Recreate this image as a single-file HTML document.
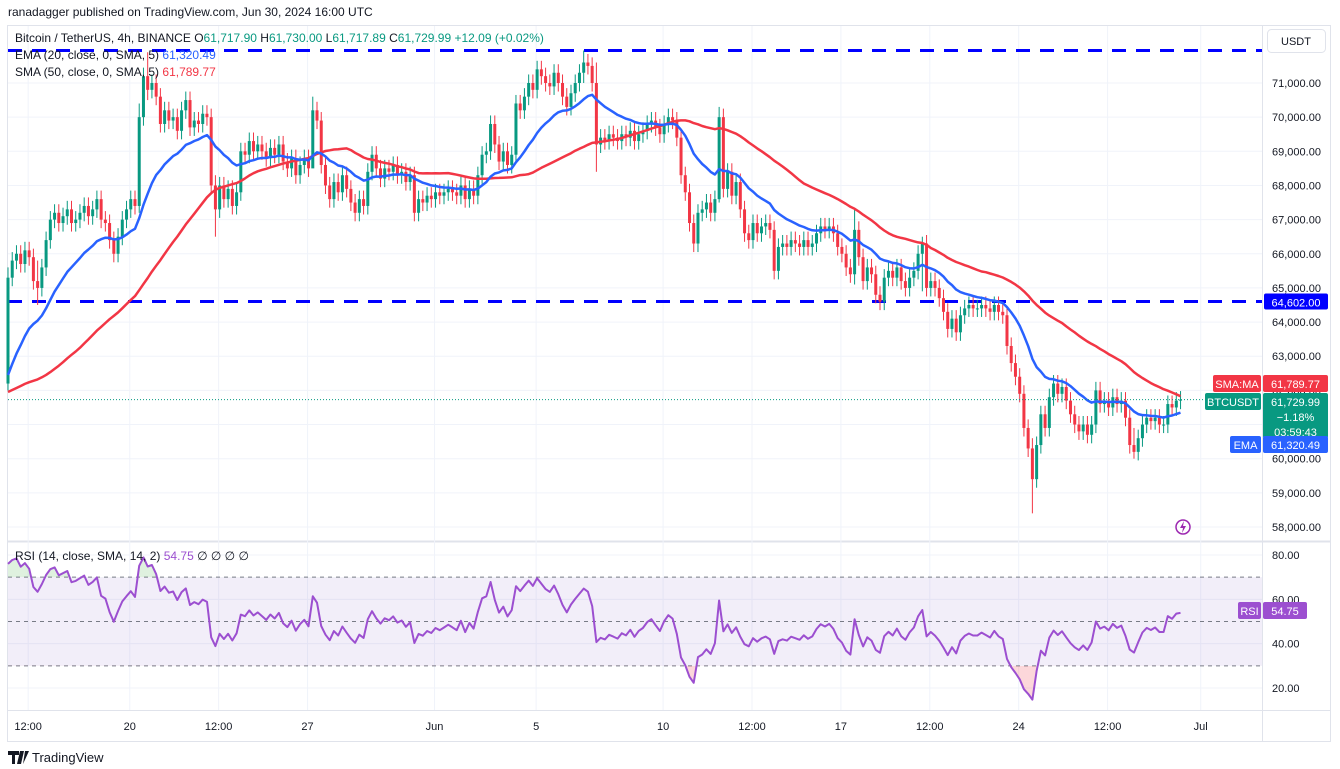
<!DOCTYPE html>
<html><head><meta charset="utf-8">
<style>
html,body{margin:0;padding:0;background:#fff;width:1340px;height:769px;overflow:hidden;font-family:"Liberation Sans",sans-serif;}
svg text{font-family:"Liberation Sans",sans-serif;}
</style></head>
<body>
<svg id="chart" width="1340" height="769" viewBox="0 0 1340 769" xmlns="http://www.w3.org/2000/svg">
<text x="8" y="16" font-size="12" fill="#131722">ranadagger published on TradingView.com, Jun 30, 2024 16:00 UTC</text>
<rect x="7.5" y="25.5" width="1323" height="716" fill="none" stroke="#e0e3eb"/>
<line x1="1262.5" y1="25" x2="1262.5" y2="742" stroke="#e0e3eb"/>
<line x1="8" y1="541.5" x2="1331" y2="541.5" stroke="#e0e3eb" stroke-width="2"/>
<line x1="8" y1="710.5" x2="1331" y2="710.5" stroke="#e0e3eb"/>
<g id="grid"></g>
<g id="rsiPane"></g>
<g id="mainPane"></g>
<g id="axes"></g>
<g id="legend">
<text x="15" y="42" font-size="12" fill="#131722">Bitcoin / TetherUS, 4h, BINANCE <tspan fill="#131722">O</tspan><tspan fill="#089981">61,717.90</tspan> <tspan fill="#131722">H</tspan><tspan fill="#089981">61,730.00</tspan> <tspan fill="#131722">L</tspan><tspan fill="#089981">61,717.89</tspan> <tspan fill="#131722">C</tspan><tspan fill="#089981">61,729.99 +12.09 (+0.02%)</tspan></text>
<text x="15" y="59" font-size="12" fill="#131722">EMA (20, close, 0, SMA, 5) <tspan fill="#2962ff">61,320.49</tspan></text>
<text x="15" y="76" font-size="12" fill="#131722">SMA (50, close, 0, SMA, 5) <tspan fill="#f23645">61,789.77</tspan></text>
<text x="15" y="560" font-size="12" fill="#131722">RSI (14, close, SMA, 14, 2) <tspan fill="#9c4fd0">54.75</tspan>  ∅  ∅  ∅  ∅</text>
</g>
<g><rect x="1267.5" y="29.5" width="58" height="23" rx="4" fill="#fff" stroke="#e0e3eb"/><text x="1296" y="45" font-size="11" text-anchor="middle" fill="#131722">USDT</text></g>
<g><circle cx="1183" cy="527" r="7" fill="none" stroke="#9c27b0" stroke-width="1.5"/><path d="M1184 521 L1180 528 L1183 528 L1182 533 L1186 526 L1183 526 Z" fill="#9c27b0"/></g>
<g><path d="M8 751 h11 v4 h-4 v9 h-3 v-9 h-4z M20 751 h4 l-3 13 h-4z M25 751 h4 l-6 13 h-0z" fill="#131722"/><text x="32" y="762" font-size="13" fill="#131722">TradingView</text></g>
</svg>
<script>
// ---- data (prices in thousands USDT) ----
const priorCloses = [62.9,63.1,62.8,63.0,63.4,63.2,62.9,62.6,62.8,63.0,62.5,62.2,61.9,61.6,61.8,62.1,61.7,61.3,61.0,60.9,61.2,61.5,61.3,60.8,61.1,61.4,61.0,61.2,61.5,61.8,61.4,61.9,62.1,61.7,61.9,61.6,61.2,61.0,61.4,61.7,61.3,61.6,61.9,62.0,61.8,62.2,61.9,62.1,62.2];
const closes = [65.3,65.8,66.0,65.7,66.1,65.9,65.2,65.0,65.6,66.4,
67.0,67.2,66.9,67.1,67.3,66.9,67.0,67.2,67.4,67.1,
67.3,67.6,67.0,66.9,66.4,66.0,66.5,67.0,67.3,67.6,
67.4,70.0,71.2,70.8,71.0,70.6,69.8,70.2,69.9,70.0,
69.6,70.2,70.5,69.7,69.9,69.8,70.1,70.0,68.0,67.3,
68.0,67.6,67.9,67.4,67.8,69.0,68.9,69.3,69.0,69.2,
69.0,68.8,69.1,68.9,69.2,68.7,68.5,68.8,68.3,68.6,
68.8,68.5,70.2,69.9,68.6,68.0,67.6,68.1,67.8,68.3,
67.9,67.5,67.2,67.6,67.4,68.4,68.9,68.5,68.2,68.5,
68.4,68.6,68.3,68.4,68.1,68.3,67.2,67.6,67.5,67.7,
67.6,67.8,67.7,67.8,67.9,67.8,67.7,68.0,67.6,67.9,
67.7,68.3,68.9,69.0,69.8,69.2,68.7,69.0,68.6,68.9,
70.4,70.2,70.6,71.0,70.8,71.4,71.2,71.0,70.9,71.3,
71.0,70.6,70.3,70.7,71.0,71.3,71.6,71.5,71.0,69.2,
69.4,69.3,69.5,69.4,69.3,69.5,69.4,69.6,69.3,69.5,
69.6,69.8,69.9,69.7,69.5,69.8,70.0,69.9,69.4,68.3,
67.8,66.9,66.3,67.2,67.3,67.5,67.2,67.6,70.0,67.9,
68.4,67.7,68.1,67.3,66.6,66.4,66.9,66.6,66.8,66.9,
66.7,65.5,66.2,66.3,66.2,66.4,66.3,66.2,66.4,66.2,
66.3,66.6,66.8,66.7,66.8,66.6,66.2,66.0,65.6,65.4,
66.7,65.9,65.2,65.6,65.4,64.8,64.6,65.3,65.5,65.3,
65.6,65.2,65.0,65.3,65.5,66.0,66.3,65.0,65.2,65.0,
64.7,64.3,63.8,64.1,63.7,64.2,64.4,64.5,64.4,64.4,
64.5,64.4,64.3,64.5,64.3,64.2,63.3,62.8,62.4,61.9,
60.9,60.3,59.4,60.4,61.3,60.9,61.8,62.2,61.9,62.1,
61.7,61.3,61.0,60.8,61.0,60.7,61.0,62.0,61.6,61.7,
61.5,61.8,61.6,61.7,61.2,60.4,60.2,60.6,61.0,61.2,
61.1,61.2,61.0,61.0,61.6,61.5,61.7,61.73];
const firstOpen = 62.2;
// notable wicks: [index, high, low]
const wickIdx = [0,7,31,33,49,72,136,139,168,200,216,242,266];
const wickHigh = [65.6,65.8,70.4,71.9,68.3,70.6,71.95,71.6,70.3,67.3,66.5,60.6,60.9];
const wickLow = [62.0,64.5,67.2,70.5,66.5,69.6,71.0,68.4,67.5,65.1,64.9,58.4,60.0];
const defaultWick = 0.25;
const emaSeed = 62.15;
const priceTicks = [58,59,60,61,62,63,64,65,66,67,68,69,70,71];
const rsiTicks = [20,40,60,80];
const timeLabels = ["12:00","20","12:00","27","Jun","5","10","12:00","17","12:00","24","12:00","Jul"];
const timeLabelIdx = [5,29,50,71,101,125,155,176,197,218,239,260,282];
const levels = [71.95,64.602];

// ---- axis functions ----
const xC = i => 8 + i*4.233;
const yP = p => 83 + (71 - p)*34.154;
const yR = r => 555 + (80 - r)*2.2167;
const NS='http://www.w3.org/2000/svg';
function mk(tag, attrs, parent){const e=document.createElementNS(NS,tag);for(const k in attrs)e.setAttribute(k,attrs[k]);parent.appendChild(e);return e;}
const fmt = v => v.toLocaleString('en-US',{minimumFractionDigits:2,maximumFractionDigits:2});

const grid=document.getElementById('grid'), main=document.getElementById('mainPane'), rsiG=document.getElementById('rsiPane'), axes=document.getElementById('axes');

// grid + price labels
priceTicks.forEach(p=>{
  const y=yP(p);
  const g=mk('line',{x1:8,x2:1262,y1:y,y2:y,stroke:'#f0f3fa'},grid);
  
  
  const t=mk('text',{x:1272,y:y+4,'font-size':11,fill:'#131722'},axes);
  t.textContent=fmt(p*1000);
  
  
});
rsiTicks.forEach(r=>{
  const y=yR(r);
  const g=mk('line',{x1:8,x2:1262,y1:y,y2:y,stroke:'#f0f3fa'},grid);
  
  
  const t=mk('text',{x:1272,y:y+4,'font-size':11,fill:'#131722'},axes);
  t.textContent=r.toFixed(2);
  
  
});
timeLabels.forEach((s,k)=>{
  const x=xC(timeLabelIdx[k])-1;
  const g=mk('line',{x1:x,x2:x,y1:26,y2:710,stroke:'#f0f3fa'},grid);
  
  
  const t=mk('text',{x:x,y:730,'font-size':11,fill:'#131722','text-anchor':'middle'},axes);
  t.textContent=s;
  
  
});

// horizontal levels
levels.forEach(p=>{
  const l=mk('line',{x1:8,x2:1262,y1:yP(p),y2:yP(p),stroke:'#0000ff','stroke-width':3,'stroke-dasharray':'14 10'},main);
  
  
});

// candles
const all = priorCloses.concat(closes);
closes.forEach((c,i)=>{
  const o = i===0?firstOpen:closes[i-1];
  let hi=Math.max(o,c)+defaultWick, lo=Math.min(o,c)-defaultWick;
  const w=wickIdx.indexOf(i); if(w>=0){hi=wickHigh[w];lo=wickLow[w];}
  const col = c>=o?'#089981':'#f23645';
  const x=xC(i);
  const wk=mk('line',{x1:x,x2:x,y1:yP(hi),y2:yP(lo),stroke:col,'stroke-width':1},main);
  
  
  const top=yP(Math.max(o,c)), bot=yP(Math.min(o,c));
  const b=mk('rect',{x:x-1.5,y:top,width:3,height:Math.max(1,bot-top),fill:col},main);
  
  
});

// EMA20
let ema=emaSeed; const k=2/21; let emaPts=[];
closes.forEach((c,i)=>{ema=c*k+ema*(1-k);emaPts.push(xC(i).toFixed(1)+','+yP(ema).toFixed(1));});
// SMA50
let smaPts=[];
closes.forEach((c,i)=>{const j=priorCloses.length+i;let s=0;for(let q=j-49;q<=j;q++)s+=all[q];smaPts.push(xC(i).toFixed(1)+','+yP(s/50).toFixed(1));});
const smaL=mk('polyline',{points:smaPts.join(' '),fill:'none',stroke:'#f23645','stroke-width':2.5,'stroke-linejoin':'round'},main);


const emaL=mk('polyline',{points:emaPts.join(' '),fill:'none',stroke:'#2962ff','stroke-width':2.5,'stroke-linejoin':'round'},main);


const lastClose=closes[closes.length-1];
const cl=mk('line',{x1:8,x2:1262,y1:yP(lastClose),y2:yP(lastClose),stroke:'#089981','stroke-dasharray':'1 2'},main);



// RSI (Wilder 14)
let ag=0,al=0;
for(let j=1;j<=14;j++){const d=all[j]-all[j-1];if(d>0)ag+=d;else al-=d;}
ag/=14;al/=14;
let rsiVals=[];
for(let j=15;j<all.length;j++){const d=all[j]-all[j-1];ag=(ag*13+Math.max(d,0))/14;al=(al*13+Math.max(-d,0))/14;if(j>=priorCloses.length)rsiVals.push(al===0?100:100-100/(1+ag/al));}
// band
const band=mk('rect',{x:8,y:yR(70),width:1254,height:yR(30)-yR(70),fill:'#7e57c2','fill-opacity':0.1},rsiG);


[70,50,30].forEach(r=>{
  const l=mk('line',{x1:8,x2:1262,y1:yR(r),y2:yR(r),stroke:'#787b86','stroke-dasharray':'4 4'},rsiG);
  
  
});
const rPts=rsiVals.map((r,i)=>xC(i).toFixed(1)+','+yR(r).toFixed(1));
const defs=mk('defs',{},rsiG);
const c1=mk('clipPath',{id:'ob'},defs); mk('rect',{x:0,y:0,width:1340,height:yR(70)},c1);
const c2=mk('clipPath',{id:'os'},defs); mk('rect',{x:0,y:yR(30),width:1340,height:200},c2);
const ob=mk('polygon',{points:xC(0)+','+yR(70)+' '+rPts.join(' ')+' '+xC(rsiVals.length-1)+','+yR(70),fill:'#4caf50','fill-opacity':0.18,'clip-path':'url(#ob)'},rsiG);


const os=mk('polygon',{points:xC(0)+','+yR(30)+' '+rPts.join(' ')+' '+xC(rsiVals.length-1)+','+yR(30),fill:'#f23645','fill-opacity':0.2,'clip-path':'url(#os)'},rsiG);


const rl=mk('polyline',{points:rPts.join(' '),fill:'none',stroke:'#9c4fd0','stroke-width':2,'stroke-linejoin':'round'},rsiG);



// badges
function badge(name,x,y,w,h,bg,lines,fs){
  const g=mk('g',{},axes);
  
  
  mk('rect',{x:x,y:y,width:w,height:h,rx:2,fill:bg},g);
  lines.forEach((s,q)=>{const t=mk('text',{x:x+w/2,y:y+13+q*15,'font-size':fs||11,fill:'#fff','text-anchor':'middle'},g);t.textContent=s;});
}
badge('level-price-badge',1264,yP(64.602)-8,64,16,'#0000ff',['64,602.00']);
badge('sma-label',1213,375,48,17,'#f23645',['SMA:MA']);
badge('sma-price-badge',1263,375,65,17,'#f23645',['61,789.77']);
badge('symbol-label',1205,393,56,17,'#089981',['BTCUSDT']);
badge('last-price-badge',1263,393,65,45,'#089981',['61,729.99','−1.18%','03:59:43']);
badge('ema-label',1230,436,31,17,'#2962ff',['EMA']);
badge('ema-price-badge',1263,436,65,17,'#2962ff',['61,320.49']);
badge('rsi-label',1238,602,23,17,'#9c4fd0',['RSI']);
badge('rsi-value-badge',1263,602,44,17,'#9c4fd0',['54.75']);
</script>
</body></html>
